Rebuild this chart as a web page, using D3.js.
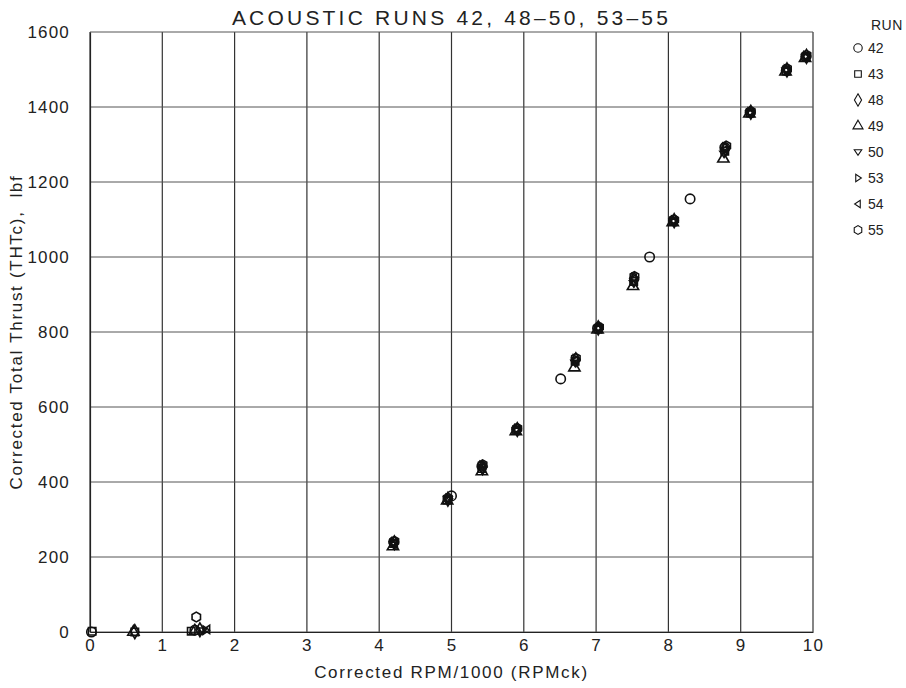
<!DOCTYPE html>
<html>
<head>
<meta charset="utf-8">
<script src="https://cdn.jsdelivr.net/npm/d3@7"></script>
<style>
	body { margin: 0; background: #fff; }
	text { font-family: "Liberation Sans", Arial, sans-serif; fill: #222; white-space: pre; }
</style>
</head>
<body>
<div id="chart"></div>
<script>
	'use strict';

	// data: [RPM/1000, thrust lbf]
	var runNames = ['42', '43', '48', '49', '50', '53', '54', '55'];
	var run42 = [[0.02, 0], [1.45, 5], [4.20, 240], [5.00, 363], [5.42, 442], [5.90, 541], [6.51, 675], [7.02, 810], [7.74, 1000], [8.07, 1098], [8.30, 1155], [8.78, 1292], [9.13, 1386], [9.63, 1497], [9.90, 1534]];
	var run43 = [[0.03, 2], [0.62, 0], [1.40, 2], [4.20, 236], [4.94, 352], [5.42, 436], [5.90, 538], [6.71, 722], [7.03, 808], [7.52, 935], [8.07, 1095], [8.78, 1282], [9.13, 1384], [9.63, 1496], [9.90, 1532]];
	var run48 = [[0.62, 1], [1.52, 6], [4.21, 238], [4.95, 354], [5.43, 438], [5.91, 540], [6.72, 726], [7.03, 811], [7.53, 940], [8.08, 1097], [8.79, 1288], [9.14, 1386], [9.64, 1499], [9.91, 1535]];
	var run49 = [[0.60, 0], [1.45, 3], [4.19, 228], [4.94, 350], [5.42, 428], [5.89, 535], [6.70, 705], [7.02, 806], [7.51, 922], [8.06, 1092], [8.76, 1262], [9.12, 1382], [9.62, 1494], [9.89, 1530]];
	var run50 = [[1.56, 4], [4.20, 233], [4.95, 353], [5.43, 433], [5.90, 537], [6.71, 718], [7.03, 809], [7.52, 930], [8.07, 1094], [8.77, 1275], [9.13, 1383], [9.63, 1497], [9.90, 1533]];
	var run53 = [[1.60, 5], [4.21, 240], [4.96, 356], [5.43, 444], [5.91, 542], [6.72, 728], [7.04, 812], [7.53, 945], [8.08, 1098], [8.79, 1293], [9.14, 1387], [9.64, 1501], [9.91, 1537]];
	var run54 = [[1.62, 7], [4.20, 236], [4.95, 355], [5.42, 440], [5.90, 539], [6.71, 724], [7.03, 810], [7.52, 942], [8.07, 1096], [8.78, 1286], [9.13, 1385], [9.63, 1499], [9.90, 1535]];
	var run55 = [[1.47, 40], [4.21, 242], [4.95, 357], [5.43, 446], [5.91, 543], [6.72, 730], [7.04, 813], [7.53, 948], [8.08, 1099], [8.80, 1296], [9.14, 1388], [9.64, 1502], [9.91, 1538]];
	var runData = [run42, run43, run48, run49, run50, run53, run54, run55];

	var xTicks = [0, 1, 2, 3, 4, 5, 6, 7, 8, 9, 10];
	var yTicks = [0, 200, 400, 600, 800, 1000, 1200, 1400, 1600];

	var margin = {top: 32, right: 93, bottom: 56, left: 90},
		fullW = 906, fullH = 688,
		width = fullW - margin.left - margin.right,
		height = fullH - margin.top - margin.bottom;

	var svg = d3.select('#chart')
		.append('svg')
		.attr('width', fullW)
		.attr('height', fullH);

	var g = svg.append('g')
		.attr('transform', 'translate(' + margin.left + ',' + margin.top + ')');

	var x = d3.scaleLinear().domain([0, 10]).range([0, width]);
	var y = d3.scaleLinear().domain([0, 1600]).range([height, 0]);

	// grid
	g.append('g')
		.selectAll('line')
		.data(xTicks)
		.enter()
		.append('line')
		.attr('x1', function (d) { return x(d); })
		.attr('x2', function (d) { return x(d); })
		.attr('y1', 0)
		.attr('y2', height)
		.attr('stroke', '#333')
		.attr('stroke-width', 1.2);
	g.append('g')
		.selectAll('line')
		.data(yTicks)
		.enter()
		.append('line')
		.attr('x1', 0)
		.attr('x2', width)
		.attr('y1', function (d) { return y(d); })
		.attr('y2', function (d) { return y(d); })
		.attr('stroke', '#555')
		.attr('stroke-width', 1);

	// axes
	var xAxis = g.append('g')
		.attr('transform', 'translate(0,' + height + ')')
		.call(d3.axisBottom(x).tickValues(xTicks).tickSize(0).tickPadding(7));
	var yAxis = g.append('g')
		.call(d3.axisLeft(y).tickValues(yTicks).tickFormat(d3.format('d')).tickSize(0).tickPadding(20));
	[xAxis, yAxis].forEach(function (a) {
		a.select('.domain').attr('stroke', '#222').attr('stroke-width', 1.2);
		a.selectAll('text')
			.style('font-size', '17px')
			.style('letter-spacing', '1.2px')
			.style('font-family', '"Liberation Sans", Arial, sans-serif')
			.attr('fill', '#222');
	});
	yAxis.selectAll('text').attr('dy', '0.35em');

	// markers
	var shapes = [
		d3.symbolCircle, d3.symbolSquare, d3.symbolDiamond, d3.symbolTriangle,
		'down', 'right', 'left', 'pent'
	];
	function symPath(i, s) {
		var sh = shapes[i];
		if (typeof sh !== 'string') {
			return d3.symbol().type(sh).size(s)();
		}
		var r = Math.sqrt(s) / 1.6;
		var pts;
		if (sh === 'down') {
			pts = [[-r, -r * 0.6], [r, -r * 0.6], [0, r * 0.9]];
		} else if (sh === 'right') {
			pts = [[-r * 0.6, -r], [-r * 0.6, r], [r * 0.9, 0]];
		} else if (sh === 'left') {
			pts = [[r * 0.6, -r], [r * 0.6, r], [-r * 0.9, 0]];
		} else {
			pts = d3.range(6).map(function (k) {
				var a = Math.PI / 6 + k * Math.PI / 3;
				return [r * 1.05 * Math.cos(a), r * 1.05 * Math.sin(a)];
			});
		}
		return 'M' + pts.join('L') + 'Z';
	}
	var sizes = [70, 55, 55, 55, 45, 45, 45, 55];

	runData.forEach(function (series, i) {
		g.append('g')
			.selectAll('path')
			.data(series)
			.enter()
			.append('path')
			.attr('transform', function (d) { return 'translate(' + x(d[0]) + ',' + y(d[1]) + ')'; })
			.attr('d', symPath(i, sizes[i]))
			.attr('fill', 'none')
			.attr('stroke', '#111')
			.attr('stroke-width', 1.6);
	});

	// title and labels
	svg.append('text')
		.attr('x', margin.left + width / 2)
		.attr('y', 25)
		.attr('text-anchor', 'middle')
		.style('font-size', '21px')
		.style('letter-spacing', '3.2px')
		.text('ACOUSTIC RUNS 42, 48–50, 53–55');
	svg.append('text')
		.attr('x', margin.left + width / 2)
		.attr('y', 678)
		.attr('text-anchor', 'middle')
		.style('font-size', '17px')
		.style('letter-spacing', '1.7px')
		.text('Corrected RPM/1000 (RPMck)');
	svg.append('text')
		.attr('transform', 'translate(22,' + (margin.top + height / 2) + ') rotate(-90)')
		.attr('text-anchor', 'middle')
		.style('font-size', '17px')
		.style('letter-spacing', '1.7px')
		.text('Corrected Total Thrust (THTc),  lbf');

	// legend
	var legend = svg.append('g').attr('transform', 'translate(858,0)');
	legend.append('text')
		.attr('x', 13)
		.attr('y', 30)
		.style('font-size', '14px')
		.style('letter-spacing', '0.5px')
		.text('RUN');
	runNames.forEach(function (name, i) {
		var ly = 48 + i * 26;
		legend.append('path')
			.attr('transform', 'translate(0,' + ly + ')')
			.attr('d', symPath(i, sizes[i] * 0.8))
			.attr('fill', 'none')
			.attr('stroke', '#111')
			.attr('stroke-width', 1.1);
		legend.append('text')
			.attr('x', 10)
			.attr('y', ly + 5)
			.style('font-size', '14px')
			.text(name);
	});
</script>
</body>
</html>
